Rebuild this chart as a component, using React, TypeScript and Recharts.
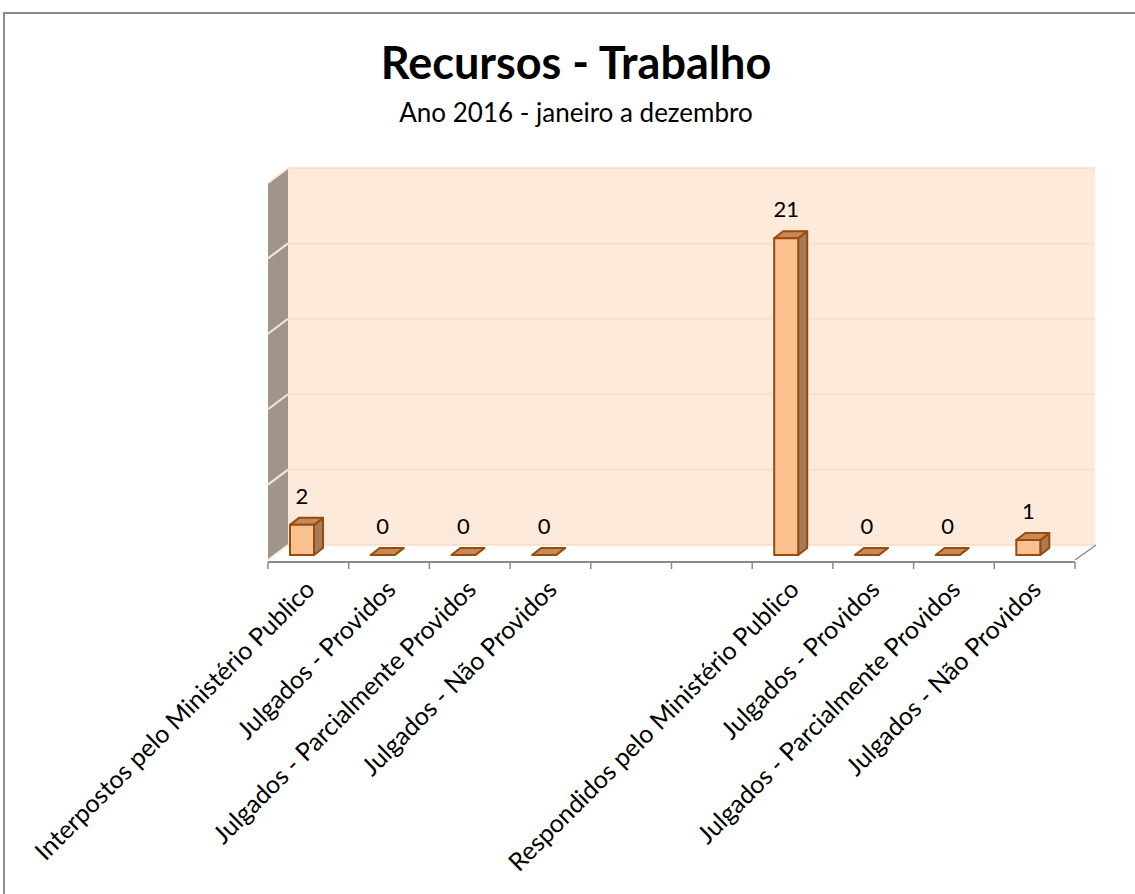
import React from 'react';
import { BarChart, Bar, XAxis, YAxis, ReferenceArea, LabelList } from 'recharts';

const categories = [
  'Interpostos pelo Ministério Publico',
  'Julgados - Providos',
  'Julgados - Parcialmente Providos',
  'Julgados - Não Providos',
  '',
  '',
  'Respondidos pelo Ministério Publico',
  'Julgados - Providos',
  'Julgados - Parcialmente Providos',
  'Julgados - Não Providos',
];
const values: (number | null)[] = [2, 0, 0, 0, null, null, 21, 0, 0, 1];
const gridValues = [0, 5, 10, 15, 20, 25];

const data = categories.map((name, i) => ({ name, value: values[i] }));

const FONT = 'Lato, "Open Sans", sans-serif';
const Y_MAX = 25;
// depth of the 3D box
const BACK_DX = 20;
const BACK_DY = 10;
const FRONT_DY = 5;
const BAR_DX = 9;
const BAR_DY = 7;

const Walls = (props: any) => {
  const { x, y, width, height } = props;
  const bottom = y + height;
  const bx = x + BACK_DX;
  const fy = bottom + FRONT_DY;
  const by = bottom - BACK_DY;
  const topBack = y - BACK_DY;
  const topFront = y + FRONT_DY;
  const slot = width / categories.length;
  return (
    <g>
      <polygon
        points={`${x},${fy} ${bx},${by} ${x + width + BACK_DX},${by} ${x + width},${fy}`}
        fill="#ffffff"
      />
      <polygon
        points={`${x},${fy} ${bx},${by} ${bx},${topBack} ${x},${topFront}`}
        fill="#a0958b"
      />
      <rect x={bx} y={topBack} width={width} height={height} fill="#fdeada" />
      {gridValues.map((v) => {
        const gy = y + height * (1 - v / Y_MAX);
        return (
          <g key={v}>
            <line x1={bx} y1={gy - BACK_DY} x2={bx + width} y2={gy - BACK_DY} stroke="#f8dcc4" strokeWidth={1.5} />
            <line x1={x} y1={gy + FRONT_DY} x2={bx} y2={gy - BACK_DY} stroke="#f4e8dc" strokeWidth={2} />
          </g>
        );
      })}
      <line x1={x + width} y1={fy} x2={x + width + BACK_DX + 1} y2={by} stroke="#8a8a8a" strokeWidth={1.5} />
      <line x1={x} y1={fy + 2} x2={x + width} y2={fy + 2} stroke="#8a8a8a" strokeWidth={2} />
      {categories.concat(['']).map((_, i) => (
        <line
          key={i}
          x1={x + i * slot}
          y1={fy + 2}
          x2={x + i * slot}
          y2={fy + 9}
          stroke="#8a8a8a"
          strokeWidth={1.5}
        />
      ))}
    </g>
  );
};

const Box3D = (props: any) => {
  const { x, y, width, height, payload } = props;
  if (!payload || payload.value == null) return null;
  const fx = x - 6;
  const h = Math.max(0, height);
  const bottom = y + h;
  return (
    <g stroke="#9c4a0a" strokeWidth={2} strokeLinejoin="round">
      <polygon
        points={`${fx + width},${y} ${fx + width + BAR_DX},${y - BAR_DY} ${fx + width + BAR_DX},${bottom - BAR_DY} ${fx + width},${bottom}`}
        fill="#a67b59"
      />
      <polygon
        points={`${fx},${y} ${fx + BAR_DX},${y - BAR_DY} ${fx + width + BAR_DX},${y - BAR_DY} ${fx + width},${y}`}
        fill="#c38a5e"
      />
      {h > 0 && <rect x={fx} y={y} width={width} height={h} fill="#fac090" />}
    </g>
  );
};

const ValueLabel = (props: any) => {
  const { x, y, width, value } = props;
  if (value == null) return null;
  return (
    <text x={x - 6 + width / 2} y={y - 21} textAnchor="middle" fontFamily={FONT} fontSize={22} fill="#000">
      {value}
    </text>
  );
};

const AxisTick = (props: any) => {
  const { x, y, payload } = props;
  if (!payload || !payload.value) return null;
  const px = x + 8;
  const py = y + 28;
  return (
    <text
      x={px}
      y={py}
      transform={`rotate(-45, ${px}, ${py})`}
      textAnchor="end"
      fontFamily={FONT}
      fontSize={25}
      fill="#000"
    >
      {payload.value}
    </text>
  );
};

export default function App() {
  return (
    <div
      style={{
        position: 'absolute',
        left: 0,
        top: 0,
        width: 1135,
        height: 894,
        overflow: 'hidden',
        background: '#fff',
      }}
    >
      <div
        style={{
          position: 'absolute',
          left: 3,
          top: 12,
          width: 1200,
          height: 1000,
          borderTop: '2px solid #8c8c8c',
          borderLeft: '2px solid #8c8c8c',
        }}
      />
      <div
        style={{
          position: 'absolute',
          left: 0,
          width: 1152,
          top: 36,
          textAlign: 'center',
          fontFamily: FONT,
          fontWeight: 700,
          fontSize: 45,
          lineHeight: '52px',
        }}
      >
        Recursos - Trabalho
      </div>
      <div
        style={{
          position: 'absolute',
          left: 0,
          width: 1152,
          top: 97,
          textAlign: 'center',
          fontFamily: FONT,
          fontSize: 26,
          lineHeight: '30px',
        }}
      >
        Ano 2016 - janeiro a dezembro
      </div>
      <div style={{ position: 'absolute', left: 0, top: 0 }}>
        <BarChart
          width={1135}
          height={894}
          data={data}
          margin={{ top: 178, right: 60, left: 268, bottom: 309 }}
        >
          <ReferenceArea y1={0} y2={Y_MAX} shape={Walls} />
          <XAxis dataKey="name" height={30} axisLine={false} tickLine={false} interval={0} tick={<AxisTick />} />
          <YAxis hide width={0} type="number" domain={[0, Y_MAX]} />
          <Bar dataKey="value" barSize={24} isAnimationActive={false} shape={Box3D}>
            <LabelList dataKey="value" content={<ValueLabel />} />
          </Bar>
        </BarChart>
      </div>
    </div>
  );
}
